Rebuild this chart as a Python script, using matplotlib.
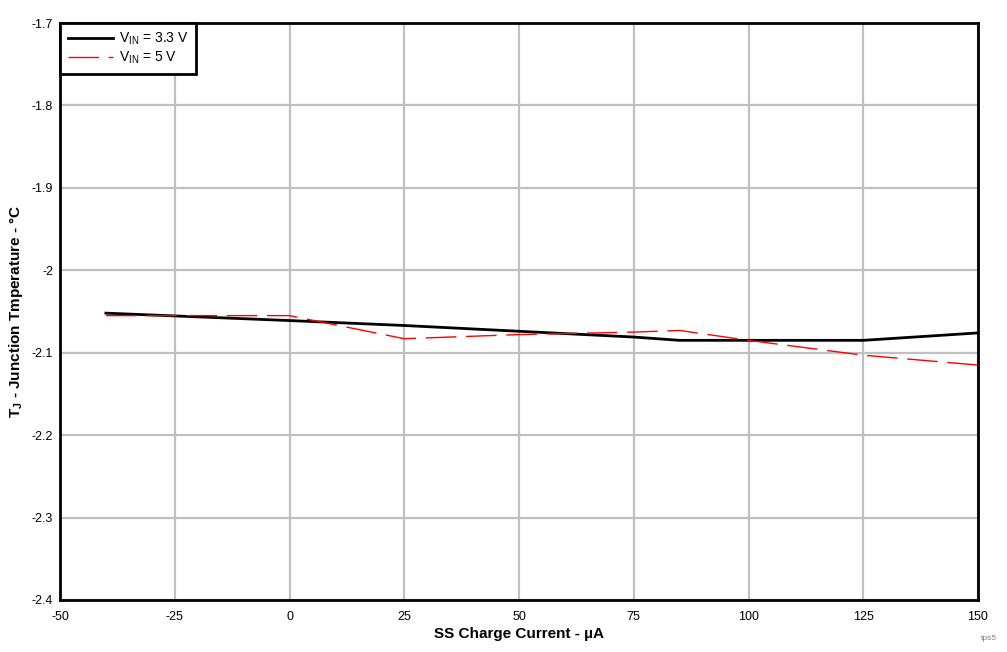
import matplotlib
matplotlib.use("Agg")
import matplotlib.pyplot as plt

plt.rcParams['font.family'] = ['Liberation Sans', 'DejaVu Sans']
plt.rcParams['mathtext.fontset'] = 'custom'
plt.rcParams['mathtext.rm'] = 'Liberation Sans'

x_33 = [-40, 0, 25, 50, 75, 85, 100, 125, 150]
y_33 = [-2.052, -2.061, -2.067, -2.074, -2.081, -2.085, -2.085, -2.085, -2.076]
x_5 = [-40, 0, 25, 50, 75, 85, 100, 125, 150]
y_5 = [-2.055, -2.055, -2.083, -2.078, -2.075, -2.073, -2.085, -2.103, -2.115]

xticks = [-50, -25, 0, 25, 50, 75, 100, 125, 150]
yticks = [-1.7, -1.8, -1.9, -2.0, -2.1, -2.2, -2.3, -2.4]
ytick_labels = ['-1.7', '-1.8', '-1.9', '-2', '-2.1', '-2.2', '-2.3', '-2.4']

fig = plt.figure(figsize=(10.07, 6.52), dpi=100)
ax = fig.add_axes([0.0596, 0.0798, 0.9116, 0.8849])

ax.plot(x_33, y_33, color='black', lw=2, label=r'V$_{\mathregular{IN}}$ = 3.3 V', zorder=3)
ax.plot(x_5, y_5, color='red', lw=1, dashes=(22, 7), label=r'V$_{\mathregular{IN}}$ = 5 V', zorder=4)

ax.set_xlim(-50, 150)
ax.set_ylim(-2.4, -1.7)
ax.set_xticks(xticks)
ax.set_xticklabels([str(v) for v in xticks])
ax.set_yticks(yticks)
ax.set_yticklabels(ytick_labels)
ax.tick_params(axis='x', length=0, labelsize=9, pad=8)
ax.tick_params(axis='y', length=0, labelsize=9, pad=5)
ax.grid(True, color='#c0c0c0', lw=1.6)
ax.set_axisbelow(True)
for s in ax.spines.values():
    s.set_linewidth(2)
    s.set_color('black')

ax.set_xlabel('SS Charge Current - µA', fontsize=11, fontweight='bold', labelpad=3)
ax.set_ylabel(r'T$_{\mathregular{J}}$ - Junction Tmperature - °C', fontsize=11, fontweight='bold', labelpad=5)

leg = ax.legend(loc='upper left', fontsize=10, frameon=True, fancybox=False,
                borderaxespad=0, handlelength=3.3, borderpad=0.55, labelspacing=0.2,
                handletextpad=0.4)
leg.get_frame().set_edgecolor('black')
leg.get_frame().set_linewidth(2)
leg.get_frame().set_alpha(1)

fig.text(0.99, 0.02, 'tps5', fontsize=6, color='#808080', ha='right', va='center')

fig.savefig('out.png', dpi=100)
